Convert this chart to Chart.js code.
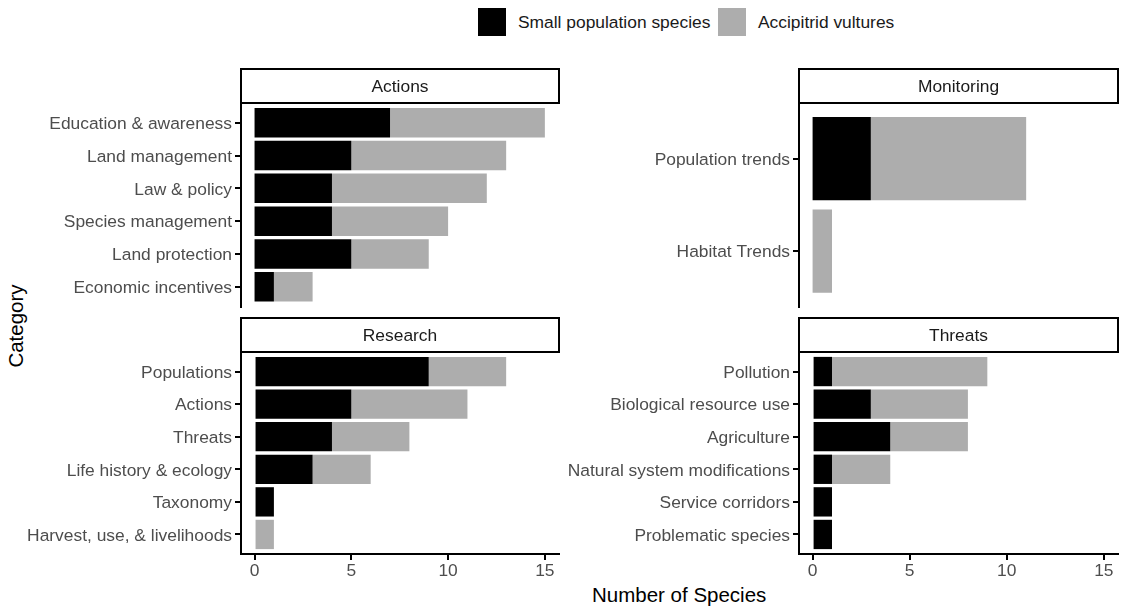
<!DOCTYPE html>
<html>
<head>
<meta charset="utf-8">
<script src="https://cdn.jsdelivr.net/npm/chart.js@4.4.1/dist/chart.umd.min.js"></script>
<style>
  body { margin: 0; background: #fff; width: 1130px; height: 608px; position: relative; overflow: hidden;
         font-family: "Liberation Sans", Arial, sans-serif; }
  .panel { position: absolute; }
  .key { position: absolute; top: 8px; width: 28px; height: 28px; }
  .lbl { position: absolute; font-size: 17.4px; color: #1a1a1a; line-height: 20px; top: 12px; white-space: nowrap; }
  .title { position: absolute; font-size: 20.5px; color: #000; line-height: 24px; white-space: nowrap; }
</style>
</head>
<body>

<div class="key" style="left:478px;background:#000"></div>
<div class="lbl" style="left:518px">Small population species</div>
<div class="key" style="left:718px;background:#adadad"></div>
<div class="lbl" style="left:758px">Accipitrid vultures</div>

<div class="title" style="left:592px;top:583px">Number of Species</div>
<div class="title" style="left:-26px;top:314px;transform:rotate(-90deg);width:84px;text-align:center">Category</div>

<div class="panel" style="left:0;top:60px"><canvas id="actions" width="560" height="250"></canvas></div>
<div class="panel" style="left:560px;top:60px"><canvas id="monitoring" width="570" height="250"></canvas></div>
<div class="panel" style="left:0;top:310px"><canvas id="research" width="560" height="290"></canvas></div>
<div class="panel" style="left:560px;top:310px"><canvas id="threats" width="570" height="290"></canvas></div>

<script>
// data (top row first)
const actionsCats = ['Education & awareness', 'Land management', 'Law & policy', 'Species management', 'Land protection', 'Economic incentives'];
const actionsSmall = [7, 5, 4, 4, 5, 1];
const actionsVultures = [8, 8, 8, 6, 4, 2];

const monitoringCats = ['Population trends', 'Habitat Trends'];
const monitoringSmall = [3, 0];
const monitoringVultures = [8, 1];

const researchCats = ['Populations', 'Actions', 'Threats', 'Life history & ecology', 'Taxonomy', 'Harvest, use, & livelihoods'];
const researchSmall = [9, 5, 4, 3, 1, 0];
const researchVultures = [4, 6, 4, 3, 0, 1];

const threatsCats = ['Pollution', 'Biological resource use', 'Agriculture', 'Natural system modifications', 'Service corridors', 'Problematic species'];
const threatsSmall = [1, 3, 4, 1, 1, 1];
const threatsVultures = [8, 5, 4, 3, 0, 0];

const xTicks = [0, 5, 10, 15];

const FONT = '"Liberation Sans", Arial, sans-serif';

// facet strip drawn above the chart area
const stripPlugin = {
  id: 'strip',
  afterDraw(chart, args, opts) {
    const a = chart.chartArea;
    const ctx = chart.ctx;
    const h = 34;
    ctx.save();
    ctx.fillStyle = '#fff';
    ctx.fillRect(a.left, a.top - h, a.right - a.left, h);
    ctx.strokeStyle = '#000';
    ctx.lineWidth = 2;
    ctx.strokeRect(a.left, a.top - h, a.right - a.left, h);
    ctx.fillStyle = '#1a1a1a';
    ctx.font = '17.4px ' + FONT;
    ctx.textAlign = 'center';
    ctx.textBaseline = 'middle';
    ctx.fillText(opts.title, (a.left + a.right) / 2, a.top - h / 2 + 1);
    ctx.restore();
  }
};

function makePanel(id, title, cats, small, vultures, showX, yWidth, pad) {
  new Chart(document.getElementById(id), {
    type: 'bar',
    data: {
      datasets: [
        { label: 'Small population species', data: small.map((v, i) => ({ x: v, y: i + 1 })), backgroundColor: '#000000' },
        { label: 'Accipitrid vultures', data: vultures.map((v, i) => ({ x: v, y: i + 1 })), backgroundColor: '#adadad' }
      ]
    },
    options: {
      indexAxis: 'y',
      responsive: false,
      animation: false,
      datasets: { bar: { categoryPercentage: 1, barPercentage: 0.9, borderWidth: 0 } },
      layout: { padding: pad },
      plugins: { legend: { display: false }, tooltip: { enabled: false }, strip: { title } },
      scales: {
        x: {
          type: 'linear', stacked: true, min: -0.7, max: 15.73, display: showX,
          afterBuildTicks: s => { s.ticks = xTicks.map(v => ({ value: v })); },
          afterFit: s => { s.height = showX ? 46 : 0; s.paddingLeft = 0; s.paddingRight = 0; },
          grid: { drawOnChartArea: false, drawTicks: true, tickLength: 6, color: '#000', lineWidth: 2 },
          border: { color: '#000', width: 2 },
          ticks: { color: '#4d4d4d', font: { family: FONT, size: 17.4 }, padding: 1, maxRotation: 0 }
        },
        y: {
          type: 'linear', stacked: true, reverse: true, min: 0.4, max: cats.length + 0.6,
          offset: false,
          afterBuildTicks: s => { s.ticks = cats.map((c, i) => ({ value: i + 1 })); },
          afterFit: s => { s.width = yWidth; s.paddingTop = 0; s.paddingBottom = 0; },
          grid: { offset: false, drawOnChartArea: false, drawTicks: true, tickLength: 6, color: '#000', lineWidth: 2 },
          border: { color: '#000', width: 2 },
          ticks: { color: '#4d4d4d', font: { family: FONT, size: 17.4 }, padding: 3, autoSkip: false,
                   labelOffset: 1.5, callback: (v, i) => cats[i] }
        }
      }
    },
    plugins: [stripPlugin]
  });
}

makePanel('actions', 'Actions', actionsCats, actionsSmall, actionsVultures, false, 241, { top: 43, right: 1, bottom: 3.5, left: 0 });
makePanel('monitoring', 'Monitoring', monitoringCats, monitoringSmall, monitoringVultures, false, 239, { top: 43, right: 12, bottom: 3.5, left: 0 });
makePanel('research', 'Research', researchCats, researchSmall, researchVultures, true, 241, { top: 42, right: 1, bottom: 0, left: 0 });
makePanel('threats', 'Threats', threatsCats, threatsSmall, threatsVultures, true, 239, { top: 42, right: 12, bottom: 0, left: 0 });
</script>
</body>
</html>
